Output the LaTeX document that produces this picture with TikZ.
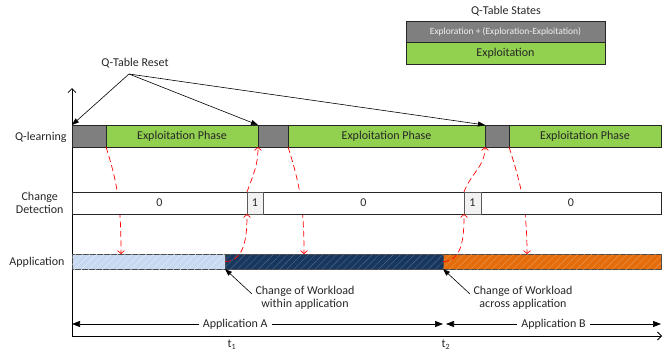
\documentclass[tikz,border=0pt]{standalone}
\usepackage{fontspec}
\setmainfont{Carlito}
\usepackage{xcolor}
\usetikzlibrary{arrows.meta,positioning,patterns.meta}

\definecolor{qgray}{HTML}{7F7F7F}
\definecolor{qgreen}{HTML}{92D050}
\definecolor{appA}{HTML}{C6D9F1}
\definecolor{appX}{HTML}{17375E}
\definecolor{appB}{HTML}{E46C0A}
\definecolor{onebox}{HTML}{F2F2F2}
\definecolor{txt}{HTML}{262626}

\begin{document}
\begin{tikzpicture}[
    x=1pt, y=-1pt,
    font=\fontsize{12}{13.5}\selectfont,
    seg/.style={draw=black!85, line width=0.8pt, inner sep=0pt, outer sep=0pt, minimum height=22pt, text=txt},
    qexpl/.style={seg, fill=qgray},
    qphase/.style={seg, fill=qgreen},
    cdseg/.style={seg, fill=white},
    cdone/.style={seg, draw=black!65, fill=onebox},
    appseg/.style={draw=black!70, line width=0.8pt, inner sep=0pt, outer sep=0pt, minimum height=15pt},
    hatch/.style={postaction={pattern={Lines[angle=45,distance=5pt,line width=0.4pt]}, pattern color=#1}},
    rowlbl/.style={anchor=east, align=center, text=txt},
    reset/.style={-{Triangle[length=7pt,width=5pt]}, line width=0.6pt},
    pointer/.style={-{Triangle[length=7pt,width=5pt]}, line width=0.6pt},
    flow/.style={-{Straight Barb[length=3pt,width=7pt]}, red, dash pattern=on 6pt off 3.5pt, line width=0.7pt},
    dim/.style={{Triangle[length=8pt,width=6pt]}-{Triangle[length=8pt,width=6pt]}, line width=0.6pt},
    axis/.style={-{Straight Barb[length=4pt,width=8pt]}, line width=0.8pt}
]
\useasboundingbox (0,0) rectangle (665,351);

\coordinate (o) at (72,336);
\coordinate (ytop) at (72,88);
\coordinate (xend) at (662,336);
\draw[axis] (o) -- (ytop);
\draw[axis] (o) -- (xend);

\node[rowlbl] (lq) at (70,137) {Q-learning};
\node[rowlbl] (lcd) at (67,203) {Change\\Detection};
\node[rowlbl] (lapp) at (68,262) {Application};

\node[qexpl, minimum width=34pt, anchor=north west] (g1) at (72,125) {};
\node[qphase, minimum width=152pt, right=0pt of g1] (e1) {Exploitation Phase};
\node[qexpl, minimum width=30pt, right=0pt of e1] (g2) {};
\node[qphase, minimum width=197pt, right=0pt of g2] (e2) {Exploitation Phase};
\node[qexpl, minimum width=24pt, right=0pt of e2] (g3) {};
\node[qphase, minimum width=152pt, right=0pt of g3] (e3) {Exploitation Phase};

\node[appseg, fill=appA, hatch=white!55!appA, minimum width=153pt, anchor=north west] (appa) at (72,254) {};
\node[appseg, fill=appX, hatch=appX!75!white, minimum width=218pt, right=0pt of appa] (appx) {};
\node[appseg, fill=appB, hatch=appB!70!white, minimum width=218pt, right=0pt of appx] (appb) {};

\coordinate (h1) at (121,254);
\coordinate (h3) at (304,254);
\coordinate (h5) at (527,254);
\draw[flow] (g1.south east) to[out=-72,in=90] (h1);
\draw[flow] (g2.south east) to[out=-72,in=90] (h3);
\draw[flow] (g3.south east) to[out=-72,in=90] (h5);

\node[cdseg, minimum width=175pt, anchor=north west] (cd0a) at (72,192) {0};
\node[cdseg, minimum width=201pt, right=16pt of cd0a] (cd0b) {0};
\node[cdseg, minimum width=180pt, right=17pt of cd0b] (cd0c) {0};
\node[cdone, minimum width=16pt, right=0pt of cd0a] (cd1a) {1};
\node[cdone, minimum width=17pt, right=0pt of cd0b] (cd1b) {1};

\draw[flow] (appx.west) to[out=0,in=-90] (cd1a.south west);
\draw[flow] (cd1a.north west) to[out=70,in=-90] (g2.south west);
\draw[flow] (appb.west) to[out=0,in=-90] (cd1b.south west);
\draw[flow] (cd1b.north west) to[out=70,in=-90] (g3.south west);

\node[text=txt] (rst) at (135,63) {Q-Table Reset};
\coordinate (rs) at (129,74);
\draw[reset] (rs) -- (g1.north west);
\draw[reset] (rs) -- (g2.north west);
\draw[reset] (rs) -- (g3.north west);

\node[align=center, text=txt] (cwa) at (305,298) {Change of Workload\\within application};
\node[align=center, text=txt] (cwb) at (523,298) {Change of Workload\\across application};
\draw[pointer] ([yshift=4pt]cwa.west) -- (appx.south west);
\draw[pointer] ([yshift=4pt]cwb.west) -- (appb.south west);

\coordinate (da1) at (72,324);
\coordinate (da2) at (443,324);
\coordinate (db1) at (446,324);
\coordinate (db2) at (661,324);
\draw[dim] (da1) -- node[pos=0.44, fill=white, text=txt, inner sep=4pt] (lbla) {Application A} (da2);
\draw[dim] (db1) -- node[fill=white, text=txt, inner sep=4pt] (lblb) {Application B} (db2);

\node[text=txt] (t1) at (232,345) {t\textsubscript{1}};
\node[text=txt] (t2) at (446,345) {t\textsubscript{2}};

\node[text=txt] (legtitle) at (506,11) {Q-Table States};
\node[seg, fill=qgray, minimum width=199pt, minimum height=21pt, anchor=north west, text=white!88!gray, font=\fontsize{9.5}{11}\selectfont] (legexp) at (406,21) {Exploration + (Exploration-Exploitation)};
\node[seg, fill=qgreen, minimum width=199pt, below=0pt of legexp] (legphase) {Exploitation};
\end{tikzpicture}
\end{document}
